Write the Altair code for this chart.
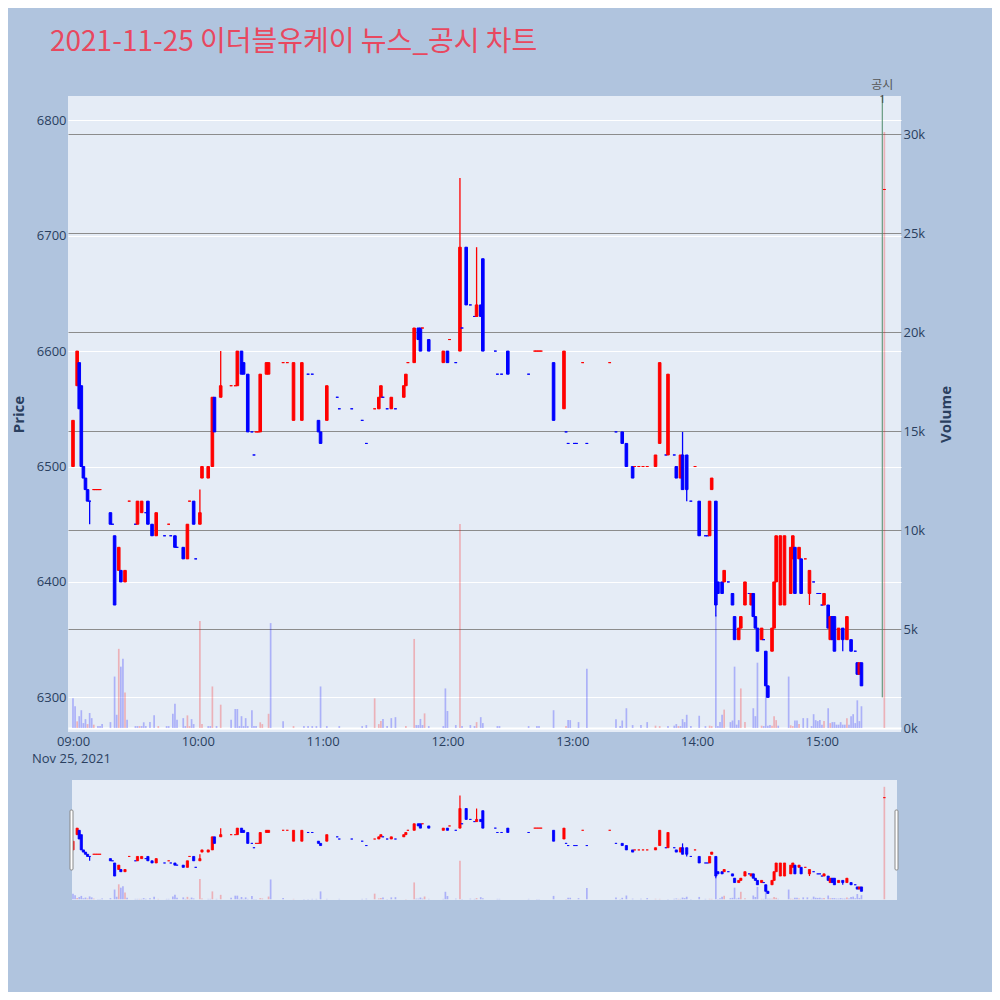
import altair as alt
import pandas as pd

TITLE = "2021-11-25 이더블유케이 뉴스_공시 차트"
DATE_LABEL = "Nov 25, 2021"

# ---- 1-minute candles: time, open, high, low, close ----
candle_time = ["09:00","09:02","09:03","09:04","09:05","09:06","09:07","09:08","09:10","09:11","09:12","09:13",
    "09:18","09:19","09:20","09:22","09:23","09:25","09:27","09:30","09:31","09:33","09:35","09:36","09:38","09:40",
    "09:44","09:46","09:47","09:49","09:50","09:53","09:55","09:56","09:58","09:59","10:01","10:02","10:05","10:07",
    "10:08","10:11","10:16","10:18","10:19","10:21","10:22","10:24","10:26","10:27","10:28","10:29","10:30","10:33",
    "10:34","10:41","10:43","10:46","10:50","10:53","10:55","10:58","10:59","11:02","11:07","11:08","11:14","11:19",
    "11:21","11:25","11:27","11:28","11:29","11:31","11:33","11:35","11:39","11:40","11:41","11:44","11:46","11:47",
    "11:48","11:51","11:58","12:00","12:01","12:04","12:06","12:07","12:09","12:11","12:13","12:14","12:16","12:17",
    "12:23","12:24","12:26","12:29","12:39","12:42","12:43","12:44","12:45","12:51","12:56","12:57","12:58","13:01",
    "13:02","13:05","13:07","13:18","13:21","13:24","13:26","13:29","13:30","13:32","13:34","13:36","13:40","13:42",
    "13:45","13:46","13:49","13:50","13:52","13:53","13:55","13:57","13:59","14:01","14:04","14:05","14:06","14:07",
    "14:09","14:10","14:12","14:13","14:15","14:17","14:18","14:20","14:21","14:23","14:25","14:26","14:27","14:28",
    "14:29","14:31","14:32","14:33","14:34","14:36","14:37","14:38","14:40","14:42","14:45","14:46","14:47","14:49",
    "14:50","14:52","14:54","14:56","14:58","14:59","15:00","15:01","15:03","15:04","15:05","15:06","15:08","15:10",
    "15:12","15:14","15:16","15:17","15:18","15:19","15:30"]
candle_open = [6500,6570,6590,6570,6500,6490,6480,6470,6480,6480,6480,6480,
    6460,6450,6440,6410,6410,6400,6470,6450,6450,6460,6460,6470,6450,6440,
    6440,6450,6440,6440,6430,6430,6420,6470,6470,6420,6450,6490,6490,6500,
    6560,6560,6570,6570,6570,6600,6590,6580,6530,6510,6530,6530,6530,6580,
    6580,6590,6590,6540,6540,6580,6580,6540,6530,6540,6560,6550,6550,6540,
    6520,6550,6550,6560,6560,6550,6550,6550,6560,6570,6590,6590,6620,6620,
    6620,6610,6590,6600,6610,6590,6600,6620,6690,6640,6630,6630,6640,6680,
    6600,6580,6580,6600,6580,6600,6600,6600,6600,6590,6550,6530,6520,6520,
    6520,6590,6520,6590,6530,6530,6520,6500,6500,6500,6500,6500,6500,6520,
    6510,6510,6510,6500,6490,6510,6510,6470,6500,6470,6440,6440,6440,6480,
    6470,6400,6400,6400,6400,6390,6370,6350,6360,6380,6390,6380,6390,6370,
    6360,6350,6350,6340,6310,6340,6360,6400,6380,6380,6390,6420,6430,6420,
    6420,6420,6390,6400,6390,6390,6380,6380,6380,6350,6370,6370,6350,6360,
    6350,6350,6340,6330,6320,6330,6740]
candle_high = [6540,6600,6590,6570,6500,6490,6480,6470,6480,6480,6480,6480,
    6460,6450,6440,6430,6410,6410,6470,6450,6470,6470,6460,6470,6450,6460,
    6440,6450,6440,6440,6430,6430,6450,6470,6470,6420,6480,6500,6500,6560,
    6560,6600,6570,6570,6600,6600,6590,6580,6530,6510,6530,6530,6580,6590,
    6590,6590,6590,6590,6590,6580,6580,6540,6530,6570,6560,6550,6550,6540,
    6520,6550,6560,6570,6560,6550,6560,6550,6570,6580,6590,6620,6620,6620,
    6620,6610,6600,6600,6610,6590,6750,6620,6690,6640,6630,6690,6640,6680,
    6600,6580,6580,6600,6580,6600,6600,6600,6600,6590,6600,6530,6520,6520,
    6520,6590,6520,6590,6530,6530,6520,6500,6500,6500,6500,6500,6510,6590,
    6510,6580,6510,6500,6510,6530,6510,6470,6500,6470,6440,6440,6470,6490,
    6470,6400,6400,6410,6400,6390,6370,6360,6370,6400,6390,6390,6390,6370,
    6360,6360,6350,6340,6310,6360,6400,6440,6440,6440,6430,6440,6430,6430,
    6420,6420,6410,6400,6390,6390,6380,6390,6380,6370,6370,6370,6360,6360,
    6370,6350,6340,6330,6330,6330,6740]
candle_low = [6500,6570,6550,6500,6490,6480,6470,6450,6480,6480,6480,6480,
    6450,6450,6380,6410,6400,6400,6470,6450,6450,6460,6460,6450,6440,6440,
    6440,6450,6440,6430,6430,6420,6420,6470,6450,6420,6450,6490,6490,6500,
    6530,6560,6570,6570,6570,6580,6580,6530,6530,6510,6530,6530,6530,6580,
    6580,6590,6590,6540,6540,6580,6580,6530,6520,6540,6560,6550,6550,6540,
    6520,6550,6550,6560,6560,6550,6550,6550,6560,6570,6590,6590,6610,6600,
    6620,6600,6590,6590,6610,6590,6600,6620,6640,6640,6630,6630,6630,6600,
    6600,6580,6580,6580,6580,6600,6600,6600,6600,6540,6550,6530,6520,6520,
    6520,6590,6520,6590,6530,6520,6500,6490,6500,6500,6500,6500,6500,6520,
    6510,6510,6510,6490,6490,6480,6470,6470,6500,6440,6440,6440,6440,6480,
    6370,6390,6390,6400,6400,6380,6350,6350,6360,6380,6390,6380,6370,6360,
    6340,6350,6350,6310,6300,6340,6360,6400,6380,6380,6390,6420,6390,6420,
    6390,6420,6380,6400,6390,6390,6380,6380,6360,6350,6350,6340,6350,6340,
    6350,6340,6340,6320,6320,6310,6740]
candle_close = [6540,6600,6550,6500,6490,6480,6470,6470,6480,6480,6480,6480,
    6450,6450,6380,6430,6400,6410,6470,6450,6470,6470,6460,6450,6440,6460,
    6440,6450,6440,6430,6430,6420,6450,6470,6450,6420,6460,6500,6500,6560,
    6530,6570,6570,6570,6600,6580,6580,6530,6530,6510,6530,6530,6580,6590,
    6590,6590,6590,6590,6590,6580,6580,6530,6520,6570,6560,6550,6550,6540,
    6520,6550,6560,6570,6560,6550,6560,6550,6570,6580,6590,6620,6610,6600,
    6620,6600,6600,6590,6610,6590,6690,6620,6640,6640,6630,6640,6630,6600,
    6600,6580,6580,6580,6580,6600,6600,6600,6600,6540,6600,6530,6520,6520,
    6520,6590,6520,6590,6530,6520,6500,6490,6500,6500,6500,6500,6510,6590,
    6510,6580,6510,6490,6510,6480,6480,6470,6500,6440,6440,6440,6470,6490,
    6380,6390,6390,6410,6400,6380,6350,6360,6370,6400,6390,6390,6370,6360,
    6340,6360,6350,6310,6300,6360,6400,6440,6440,6440,6430,6440,6390,6430,
    6390,6420,6410,6400,6390,6390,6380,6390,6360,6370,6350,6340,6360,6350,
    6370,6340,6340,6320,6330,6310,6740]

# ---- volume per minute: time, shares, direction (u = up/red, d = down/blue) ----
vol_time = ["09:00","09:01","09:02","09:03","09:04","09:05","09:06","09:07","09:08","09:09","09:10","09:12","09:13",
    "09:14","09:18","09:20","09:21","09:22","09:23","09:24","09:25","09:26","09:30","09:31","09:32","09:33","09:34",
    "09:35","09:37","09:39","09:41","09:45","09:46","09:48","09:49","09:50","09:53","09:54","09:55","09:56","09:57",
    "09:58","10:01","10:02","10:05","10:06","10:07","10:09","10:11","10:16","10:18","10:19","10:20","10:21","10:22",
    "10:23","10:24","10:26","10:27","10:28","10:30","10:31","10:34","10:35","10:41","10:46","10:51","10:53","10:55",
    "10:57","10:59","11:02","11:08","11:19","11:21","11:25","11:27","11:28","11:29","11:31","11:33","11:35","11:40",
    "11:44","11:45","11:46","11:47","11:48","11:49","11:51","11:58","11:59","12:00","12:04","12:06","12:07","12:11",
    "12:13","12:14","12:16","12:17","12:24","12:25","12:39","12:43","12:44","12:51","12:57","12:58","12:59","13:03",
    "13:07","13:21","13:23","13:24","13:26","13:29","13:33","13:36","13:40","13:42","13:46","13:49","13:50","13:51",
    "13:52","13:53","13:54","13:55","13:57","14:01","14:04","14:06","14:07","14:09","14:10","14:11","14:12","14:13",
    "14:16","14:17","14:18","14:19","14:20","14:21","14:23","14:27","14:28","14:29","14:31","14:32","14:33","14:34",
    "14:35","14:36","14:37","14:38","14:39","14:44","14:45","14:46","14:47","14:48","14:49","14:51","14:53","14:55",
    "14:56","14:57","14:58","14:59","15:00","15:01","15:03","15:04","15:05","15:06","15:07","15:08","15:09","15:10",
    "15:11","15:12","15:13","15:14","15:15","15:16","15:17","15:18","15:19","15:30"]
vol_value = [1500,1100,340,600,900,250,450,200,760,500,170,100,100,
    200,300,2600,670,4000,3100,3500,1800,420,100,100,100,100,290,
    100,300,640,100,100,100,720,1230,420,500,100,640,100,450,
    200,5400,200,100,100,2100,100,1180,420,960,960,100,600,100,
    500,100,900,100,100,290,200,720,5300,340,100,100,100,100,
    100,2100,100,100,100,150,1500,200,360,460,100,500,550,100,
    4500,150,150,460,150,740,100,100,2000,860,150,10300,100,150,
    100,300,550,250,100,100,100,100,100,900,100,400,400,300,
    3000,450,100,380,1000,150,150,300,120,100,100,120,200,100,
    100,450,300,670,100,620,100,120,100,5700,100,300,670,930,
    300,380,3100,170,400,2000,300,1000,600,3300,120,100,3100,120,
    150,120,600,400,120,2600,140,100,380,380,200,500,500,100,
    700,400,350,400,170,350,1000,250,300,300,170,170,300,170,
    170,500,170,600,700,250,1400,350,1100,30100]
vol_dir = ["d","d","u","d","d","d","d","u","d","d","u","d","d",
    "d","d","d","d","u","d","d","u","d","d","d","u","d","d",
    "d","d","d","u","d","d","d","d","d","d","d","u","u","d",
    "d","u","u","d","d","u","d","u","d","d","d","d","d","d",
    "d","d","d","d","d","u","u","u","d","d","u","d","d","d",
    "d","d","d","d","d","d","u","u","u","d","d","d","d","u",
    "u","d","d","d","d","u","d","d","d","d","d","u","d","d",
    "d","u","d","d","d","d","d","d","d","d","u","d","d","d",
    "d","d","d","d","d","d","d","d","u","u","d","d","d","u",
    "d","d","d","d","d","d","d","u","u","d","d","d","d","u",
    "d","d","d","d","d","u","u","d","d","d","u","d","d","d",
    "d","u","u","u","d","d","u","u","d","d","u","d","d","d",
    "d","d","d","d","d","u","d","u","d","d","d","d","d","d",
    "d","u","d","d","d","d","d","d","d","u"]

notice_time = ["15:29"]
notice_label = ["공시"]
notice_count = ["1"]

# ---- derived tables ----
def minutes(t):
    h, m = t.split(":")
    return int(h) * 60 + int(m) - 9 * 60

dirs = []
prev_c, prev_d = None, "up"
for o, c in zip(candle_open, candle_close):
    if c > o:
        d = "up"
    elif c < o:
        d = "down"
    elif prev_c is None or c == prev_c:
        d = prev_d
    else:
        d = "up" if c > prev_c else "down"
    dirs.append(d)
    prev_c, prev_d = c, d

candles = pd.DataFrame({"t": candle_time, "open": candle_open, "high": candle_high,
                        "low": candle_low, "close": candle_close, "dir": dirs})
candles["m"] = candles["t"].map(minutes)

vols = pd.DataFrame({"t": vol_time, "volume": vol_value,
                     "dir": ["up" if v == "u" else "down" for v in vol_dir]})
vols["m"] = vols["t"].map(minutes)

notice = pd.DataFrame({"t": notice_time, "label": notice_label, "n": notice_count,
                       "low": [min(candle_low)]})
notice["m"] = notice["t"].map(minutes)

# ---- styling ----
W, H = 833, 636
PLOT_BG = "#E5ECF6"
PAGE_BG = "#B0C4DE"
TXT = "#2a3f5f"
FONT = "Open Sans"
UP, DOWN = "#FF0000", "#0000FF"
SL_TOP, SL_BOT = 684, 804   # range slider band (plot coordinates)

color = alt.Color("dir:N", scale=alt.Scale(domain=["up", "down"], range=[UP, DOWN]), legend=None)

xscale = alt.Scale(domain=[-2.4, 398], nice=False, zero=False, padding=0)
x_axis = alt.Axis(values=[0, 60, 120, 180, 240, 300, 360],
                  labelExpr="(datum.value/60+9 < 10 ? '0' : '') + (datum.value/60+9) + ':00'",
                  title=None, grid=False, ticks=False, domain=False,
                  labelFontSize=13, labelColor=TXT, labelFont=FONT, labelPadding=3)
X = alt.X("m:Q", scale=xscale, axis=x_axis)

price_dom = [6270, 6821]
vol_dom = [-200, 31920]


def pscale(rng=None):
    if rng is None:
        return alt.Scale(domain=price_dom, nice=False, zero=False, padding=0)
    return alt.Scale(domain=price_dom, nice=False, zero=False, padding=0, range=rng)


def vscale(rng=None):
    if rng is None:
        return alt.Scale(domain=vol_dom, nice=False, padding=0)
    return alt.Scale(domain=vol_dom, nice=False, padding=0, range=rng)


price_axis = alt.Axis(orient="left", values=[6300, 6400, 6500, 6600, 6700, 6800], format="d",
                      title="Price", titleX=-50, titleY=H / 2, titleAngle=270, titleAlign="center",
                      titleBaseline="middle", titleFontSize=15, titleFontWeight="bold",
                      titleColor=TXT, titleFont=FONT,
                      labelFontSize=13, labelColor=TXT, labelFont=FONT, labelPadding=2,
                      ticks=False, domain=False, grid=True, gridColor="#FFFFFF", gridWidth=1)
vol_axis = alt.Axis(orient="right", values=[0, 5000, 10000, 15000, 20000, 25000, 30000], format="~s",
                    title="Volume", titleX=44, titleY=H / 2, titleAngle=270, titleAlign="center",
                    titleBaseline="middle", titleFontSize=15, titleFontWeight="bold",
                    titleColor=TXT, titleFont=FONT,
                    labelFontSize=13, labelColor=TXT, labelFont=FONT, labelPadding=2,
                    ticks=False, domain=False, grid=True,
                    gridColor={"condition": {"test": "datum.value === 0", "value": "#FFFFFF"},
                               "value": "#8C8C8C"},
                    gridWidth={"condition": {"test": "datum.value === 0", "value": 2}, "value": 1})

cbase = alt.Chart(candles)
vbase = alt.Chart(vols)

# main panel
vol_main = vbase.mark_bar(size=1.7, opacity=0.25).encode(
    x=X, y=alt.Y("volume:Q", scale=vscale(), axis=vol_axis), color=color)
wick_main = cbase.mark_rule(strokeWidth=1.3).encode(
    x=X, y=alt.Y("low:Q", scale=pscale(), axis=price_axis), y2="high:Q", color=color)
body_main = cbase.mark_bar(size=2.6, strokeWidth=1).encode(
    x=X, y=alt.Y("open:Q", scale=pscale(), axis=None), y2="close:Q", color=color, stroke=color)

nbase = alt.Chart(notice)
notice_rule = nbase.mark_rule(color="#4E8A6A", strokeWidth=1).encode(
    x=X, y=alt.Y("low:Q", scale=pscale(), axis=None), y2=alt.value(0))
notice_text = nbase.mark_text(fontSize=12, font="Noto Sans CJK KR", color="#555555",
                              baseline="middle").encode(x=X, y=alt.value(-11), text="label:N")
notice_num = nbase.mark_text(fontSize=11, font=FONT, color="#444444",
                             baseline="middle").encode(x=X, y=alt.value(4), text="n:N")

# range slider
slider_bg = alt.Chart(pd.DataFrame({"a": [0]})).mark_rect(color=PLOT_BG).encode(
    x=alt.value(4), x2=alt.value(829), y=alt.value(SL_TOP), y2=alt.value(SL_BOT))
vol_sl = vbase.mark_bar(size=1.7, opacity=0.25).encode(
    x=X, y=alt.Y("volume:Q", scale=vscale([SL_BOT, SL_TOP]), axis=None), color=color)
wick_sl = cbase.mark_rule(strokeWidth=1.2).encode(
    x=X, y=alt.Y("low:Q", scale=pscale([SL_BOT, SL_TOP]), axis=None), y2="high:Q", color=color)
body_sl = cbase.mark_bar(size=2.2, strokeWidth=0.8).encode(
    x=X, y=alt.Y("open:Q", scale=pscale([SL_BOT, SL_TOP]), axis=None), y2="close:Q",
    color=color, stroke=color)
handles = alt.Chart(pd.DataFrame({"h": [2, 827]})).mark_rect(
    fill="#FFFFFF", stroke="#888888", strokeWidth=1, cornerRadius=1).encode(
    x=alt.X("h:Q", scale=None), x2=alt.X2("h2:Q"), y=alt.value(714), y2=alt.value(774)
).transform_calculate(h2="datum.h + 3")

title_txt = alt.Chart(pd.DataFrame({"s": [TITLE]})).mark_text(
    align="left", baseline="alphabetic", fontSize=28, font="Noto Sans CJK KR", color="#E8485F"
).encode(x=alt.value(-18), y=alt.value(-45), text="s:N")
date_txt = alt.Chart(pd.DataFrame({"s": [DATE_LABEL]})).mark_text(
    align="left", baseline="alphabetic", fontSize=13, font=FONT, color=TXT
).encode(x=alt.value(-36), y=alt.value(667), text="s:N")

chart = alt.layer(
    slider_bg, vol_main, wick_main, body_main, notice_rule, notice_text, notice_num,
    vol_sl, wick_sl, body_sl, handles, title_txt, date_txt
).resolve_scale(y="independent").properties(
    width=W, height=H, background=PAGE_BG,
    padding={"left": 60, "top": 88, "right": 91, "bottom": 260},
    autosize=alt.AutoSizeParams(type="none"),
).configure_view(fill=PLOT_BG, stroke=None)

chart.save("out.html", embed_options={"renderer": "svg", "actions": False})
